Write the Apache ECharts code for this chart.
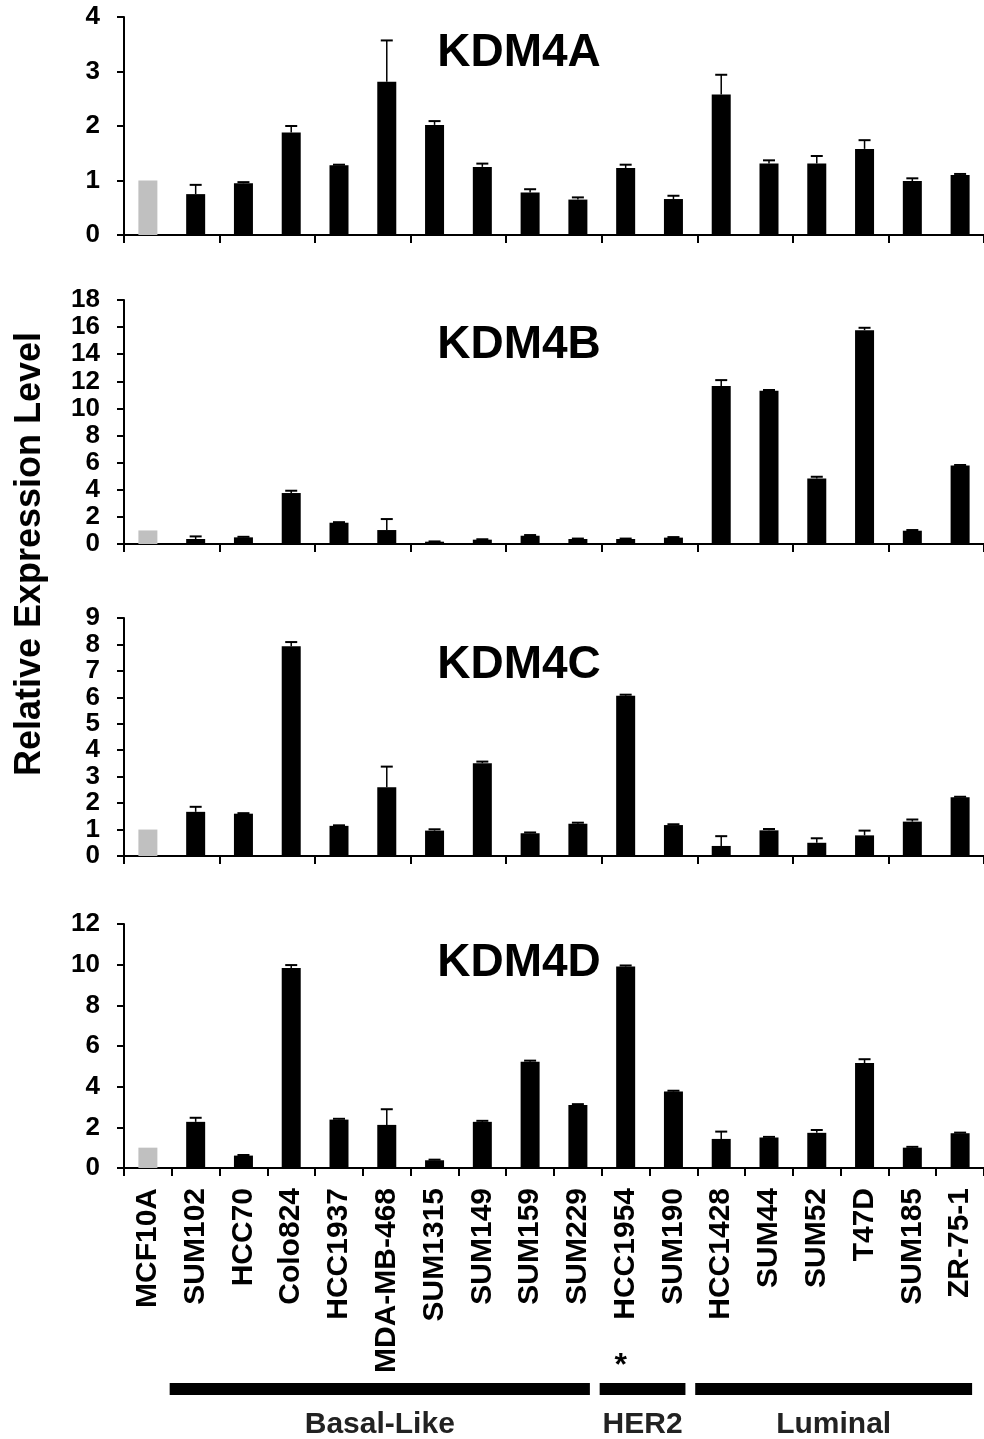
<!DOCTYPE html>
<html>
<head>
<meta charset="utf-8">
<script src="https://cdn.jsdelivr.net/npm/echarts@6/dist/echarts.min.js"></script>
<style>
html,body{margin:0;padding:0;background:#fff;}
#chart{width:984px;height:1439px;}
</style>
</head>
<body>
<div id="chart"></div>
<script>
const categories = ['MCF10A','SUM102','HCC70','Colo824','HCC1937','MDA-MB-468','SUM1315','SUM149','SUM159','SUM229','HCC1954','SUM190','HCC1428','SUM44','SUM52','T47D','SUM185','ZR-75-1'];
const referenceLine = 'MCF10A';

const kdm4aMean = [1.00, 0.75, 0.95, 1.88, 1.28, 2.81, 2.02, 1.25, 0.78, 0.65, 1.23, 0.66, 2.58, 1.31, 1.31, 1.58, 0.99, 1.10];
const kdm4aErr  = [0.00, 0.17, 0.02, 0.12, 0.01, 0.76, 0.07, 0.06, 0.06, 0.04, 0.06, 0.06, 0.36, 0.06, 0.14, 0.16, 0.05, 0.02];

const kdm4bMean = [1.00, 0.37, 0.49, 3.76, 1.57, 1.03, 0.17, 0.32, 0.61, 0.37, 0.37, 0.47, 11.65, 11.30, 4.84, 15.77, 0.98, 5.80];
const kdm4bErr  = [0.00, 0.19, 0.04, 0.17, 0.04, 0.81, 0.02, 0.03, 0.05, 0.03, 0.03, 0.04, 0.44, 0.06, 0.12, 0.18, 0.05, 0.03];

const kdm4cMean = [1.00, 1.67, 1.60, 7.93, 1.14, 2.60, 0.96, 3.51, 0.86, 1.22, 6.06, 1.17, 0.38, 0.97, 0.50, 0.78, 1.30, 2.22];
const kdm4cErr  = [0.00, 0.19, 0.02, 0.16, 0.02, 0.78, 0.05, 0.06, 0.03, 0.04, 0.04, 0.03, 0.37, 0.05, 0.17, 0.18, 0.08, 0.02];

const kdm4dMean = [1.00, 2.27, 0.61, 9.83, 2.38, 2.12, 0.38, 2.27, 5.23, 3.10, 9.91, 3.76, 1.43, 1.50, 1.73, 5.16, 1.00, 1.71];
const kdm4dErr  = [0.00, 0.20, 0.03, 0.15, 0.04, 0.77, 0.03, 0.05, 0.05, 0.04, 0.05, 0.04, 0.36, 0.03, 0.14, 0.19, 0.04, 0.03];

const panelTitles = ['KDM4A','KDM4B','KDM4C','KDM4D'];
const yMax = [4, 18, 9, 12];
const yInterval = [1, 2, 1, 2];

const groups = [
  {name: 'Basal-Like', first: 'SUM102', last: 'SUM229'},
  {name: 'HER2', first: 'HCC1954', last: 'SUM190'},
  {name: 'Luminal', first: 'HCC1428', last: 'ZR-75-1'}
];
const starredLine = 'HCC1954';
const yAxisTitle = 'Relative Expression Level';

// ---------- layout / styling ----------
const FONT = '"Liberation Sans", Arial, Helvetica, sans-serif';
const panelsLayout = [
  {top: 17, height: 218},
  {top: 300, height: 244},
  {top: 618, height: 238},
  {top: 924, height: 244}
];
const titleY = [53, 345, 665, 963];
const means = [kdm4aMean, kdm4bMean, kdm4cMean, kdm4dMean];
const errs = [kdm4aErr, kdm4bErr, kdm4cErr, kdm4dErr];

const chart = echarts.init(document.getElementById('chart'), null, {renderer: 'canvas'});

const grid = [], xAxis = [], yAxis = [], series = [];
panelsLayout.forEach((p, i) => {
  grid.push({left: 124, right: 0, top: p.top, height: p.height, containLabel: false});
  xAxis.push({
    type: 'category', gridIndex: i, data: categories,
    axisLine: {show: true, lineStyle: {color: '#000', width: 2}},
    axisTick: {show: true, alignWithLabel: false, length: 8, lineStyle: {color: '#000', width: 2}},
    axisLabel: i === 3 ? {
      show: true, rotate: 90, interval: 0, margin: 20,
      fontFamily: FONT, fontWeight: 'bold', fontSize: 30, color: '#000'
    } : {show: false},
    splitLine: {show: false}
  });
  yAxis.push({
    type: 'value', gridIndex: i, min: 0, max: yMax[i], interval: yInterval[i],
    axisLine: {show: true, lineStyle: {color: '#000', width: 2}},
    axisTick: {show: true, inside: false, length: 7, lineStyle: {color: '#000', width: 2}},
    axisLabel: {show: true, margin: 24, fontFamily: FONT, fontWeight: 'bold', fontSize: 26, color: '#000'},
    splitLine: {show: false}
  });
  series.push({
    type: 'bar', xAxisIndex: i, yAxisIndex: i, barWidth: 19,
    data: means[i],
    itemStyle: {
      color: (params) => params.name === referenceLine ? '#c0c0c0' : '#000'
    },
    silent: true, z: 2
  });
  series.push({
    type: 'custom', xAxisIndex: i, yAxisIndex: i, z: 3, silent: true,
    data: means[i].map((m, k) => [k, m, m + errs[i][k]]),
    renderItem: function (params, api) {
      const idx = api.value(0), lo = api.value(1), hi = api.value(2);
      if (!(hi > lo)) return null;
      const p0 = api.coord([idx, lo]);
      const p1 = api.coord([idx, hi]);
      const hw = 6;
      return {
        type: 'group',
        children: [
          {type: 'line', shape: {x1: p0[0], y1: p0[1], x2: p1[0], y2: p1[1]}, style: {stroke: '#000', lineWidth: 1.5}},
          {type: 'line', shape: {x1: p1[0] - hw, y1: p1[1], x2: p1[0] + hw, y2: p1[1]}, style: {stroke: '#000', lineWidth: 2}}
        ]
      };
    }
  });
});

const graphics = [];
panelTitles.forEach((t, i) => {
  graphics.push({
    type: 'text', x: 519, y: titleY[i], silent: true,
    style: {text: t, fontFamily: FONT, fontWeight: 'bold', fontSize: 46, fill: '#000', align: 'center', verticalAlign: 'middle'}
  });
});
graphics.push({
  type: 'text', x: 30, y: 554, rotation: Math.PI / 2, silent: true,
  style: {text: yAxisTitle, fontFamily: FONT, fontWeight: 'bold', fontSize: 36, fill: '#000', align: 'center', verticalAlign: 'middle'}
});

chart.setOption({
  animation: false,
  backgroundColor: '#fff',
  grid, xAxis, yAxis, series,
  graphic: graphics
});

// group annotation bars under the bottom axis, positioned from the category scale
const extra = [];
groups.forEach((g) => {
  const x0 = chart.convertToPixel({xAxisIndex: 3}, g.first) - 26;
  const x1 = chart.convertToPixel({xAxisIndex: 3}, g.last) + 12;
  extra.push({
    type: 'rect', silent: true,
    shape: {x: x0, y: 1383, width: x1 - x0, height: 12},
    style: {fill: '#000'}
  });
  extra.push({
    type: 'text', silent: true, x: (x0 + x1) / 2, y: 1425,
    style: {text: g.name, fontFamily: FONT, fontWeight: 'bold', fontSize: 30, fill: '#222', align: 'center', verticalAlign: 'middle'}
  });
});
const sx = chart.convertToPixel({xAxisIndex: 3}, starredLine);
extra.push({
  type: 'text', silent: true, x: sx - 5, y: 1366,
  style: {text: '*', fontFamily: FONT, fontWeight: 'bold', fontSize: 32, fill: '#000', align: 'center', verticalAlign: 'middle'}
});
chart.setOption({graphic: graphics.concat(extra)});
</script>
</body>
</html>
